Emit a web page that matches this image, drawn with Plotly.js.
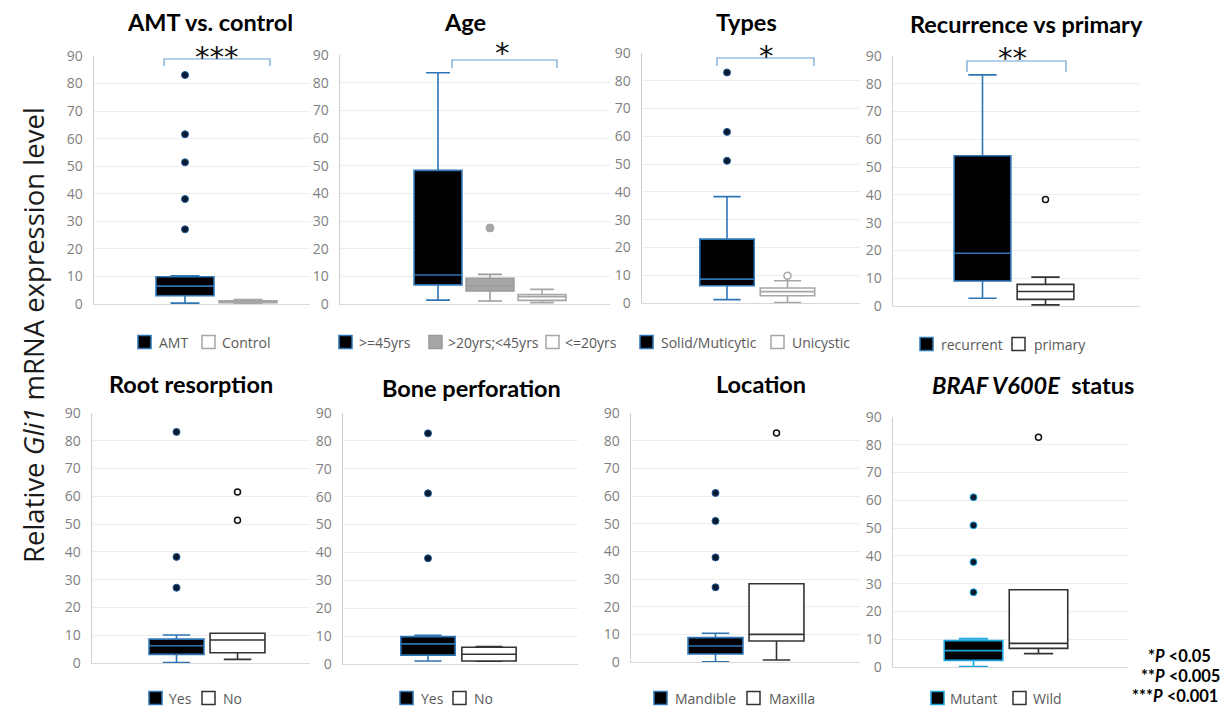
<!DOCTYPE html>
<html>
<head>
<meta charset="utf-8">
<script src="https://cdn.plot.ly/plotly-3.0.1.min.js"></script>
<style>html,body{margin:0;padding:0;background:#fff;}#chart{width:1224px;height:710px;}</style>
</head>
<body>
<div id="chart"></div>
<script>
// ---------------- DATA ----------------
// Panel 1: AMT vs. control
const p1Cats = ['AMT', 'Control'];
const p1Q1 = [3.0, 0.5];
const p1Med = [6.5, 0.9];
const p1Q3 = [9.9, 1.2];
const p1Lo = [0.3, 0.3];
const p1Hi = [10.2, 1.6];
const p1Out = [[83.1, 61.6, 51.4, 38.1, 27.1], []];

// Panel 2: Age
const p2Cats = ['>=45yrs', '>20yrs;<45yrs', '<=20yrs'];
const p2Q1 = [6.9, 4.7, 1.3];
const p2Med = [10.5, 6.6, 2.6];
const p2Q3 = [48.3, 9.3, 3.4];
const p2Lo = [1.4, 1.1, 0.5];
const p2Hi = [83.6, 10.7, 5.3];
const p2Out = [[], [27.5], []];

// Panel 3: Types
const p3Cats = ['Solid/Muticytic', 'Unicystic'];
const p3Q1 = [6.2, 2.6];
const p3Med = [8.6, 4.1];
const p3Q3 = [23.0, 5.4];
const p3Lo = [1.2, 0.2];
const p3Hi = [38.3, 8.0];
const p3Out = [[83.0, 61.6, 51.2], [9.8]];

// Panel 4: Recurrence vs primary
const p4Cats = ['recurrent', 'primary'];
const p4Q1 = [9.0, 2.4];
const p4Med = [19.0, 5.2];
const p4Q3 = [54.1, 7.8];
const p4Lo = [2.8, 0.4];
const p4Hi = [83.2, 10.4];
const p4Out = [[], [38.3]];

// Panel 5: Root resorption
const p5Cats = ['Yes', 'No'];
const p5Q1 = [3.1, 3.7];
const p5Med = [6.2, 8.3];
const p5Q3 = [8.6, 10.7];
const p5Lo = [0.2, 1.3];
const p5Hi = [10.1, 10.7];
const p5Out = [[83.2, 38.2, 27.1], [61.6, 51.4]];

// Panel 6: Bone perforation
const p6Cats = ['Yes', 'No'];
const p6Q1 = [3.2, 1.1];
const p6Med = [7.2, 3.5];
const p6Q3 = [9.8, 6.0];
const p6Lo = [1.1, 1.0];
const p6Hi = [10.3, 6.3];
const p6Out = [[82.7, 61.2, 37.9], []];

// Panel 7: Location
const p7Cats = ['Mandible', 'Maxilla'];
const p7Q1 = [2.9, 7.6];
const p7Med = [5.8, 10.0];
const p7Q3 = [8.8, 28.3];
const p7Lo = [0.1, 0.7];
const p7Hi = [10.4, 28.3];
const p7Out = [[61.1, 51.0, 37.8, 27.0], [82.8]];

// Panel 8: BRAF V600E status
const p8Cats = ['Mutant', 'Wild'];
const p8Q1 = [2.4, 6.7];
const p8Med = [5.9, 8.5];
const p8Q3 = [9.5, 27.8];
const p8Lo = [0.2, 4.8];
const p8Hi = [10.2, 27.8];
const p8Out = [[61.1, 51.0, 37.8, 26.9], [82.7]];

const yTickVals = [0, 10, 20, 30, 40, 50, 60, 70, 80, 90];
const yTickText = ['0', '10', '20', '30', '40', '50', '60', '70', '80', '90'];

// ---------------- STYLES ----------------
const W = 1224, H = 710;
const px = v => v / W;
const py = v => 1 - v / H;
const esc = s => s.replace(/&/g, '&amp;').replace(/</g, '&lt;').replace(/>/g, '&gt;');

const BLUE = '#2E75B6';
const CYAN = '#1AA7E0';
const GRAY = '#A6A6A6';
const DARK = '#333333';
const styleBlack = {fill: '#000000', line: BLUE, out: {color: '#0A1A33', size: 7, line: {color: '#1F5A96', width: 1}}};
const styleCyan = {fill: '#000000', line: CYAN, out: {color: '#0A1A33', size: 7, line: {color: CYAN, width: 1}}};
const styleGrayFill = {fill: GRAY, line: '#9A9A9A', out: {color: GRAY, size: 8, line: {color: GRAY, width: 1}}};
const styleGrayOpen = {fill: '#FFFFFF', line: GRAY, out: {color: '#FFFFFF', size: 7, line: {color: GRAY, width: 1.5}}};
const styleOpen = {fill: '#FFFFFF', line: DARK, out: {color: '#FFFFFF', size: 6, line: {color: '#111111', width: 1.5}}};

// panel geometry (pixels)
const panels = [
  {cats: p1Cats, q1: p1Q1, med: p1Med, q3: p1Q3, lo: p1Lo, hi: p1Hi, out: p1Out,
   styles: [styleBlack, styleGrayOpen], left: 94, right: 310, top: 56, bottom: 304, c0: 185, unit: 63, bw: 0.92,
   legSq: [138, 202], legTx: [157, 220], legY: 342},
  {cats: p2Cats, q1: p2Q1, med: p2Med, q3: p2Q3, lo: p2Lo, hi: p2Hi, out: p2Out,
   styles: [styleBlack, styleGrayFill, styleGrayOpen], left: 340, right: 610, top: 55, bottom: 304, c0: 438, unit: 52, bw: 0.92,
   legSq: [339, 429, 546], legTx: [357, 446, 563], legY: 342},
  {cats: p3Cats, q1: p3Q1, med: p3Med, q3: p3Q3, lo: p3Lo, hi: p3Hi, out: p3Out,
   styles: [styleBlack, styleGrayOpen], left: 642, right: 860, top: 53, bottom: 303, c0: 727, unit: 60.5, bw: 0.9,
   legSq: [640, 771], legTx: [659, 790], legY: 342},
  {cats: p4Cats, q1: p4Q1, med: p4Med, q3: p4Q3, lo: p4Lo, hi: p4Hi, out: p4Out,
   styles: [styleBlack, styleOpen], left: 893, right: 1140, top: 56, bottom: 306, c0: 982.5, unit: 63, bw: 0.9,
   legSq: [920, 1012], legTx: [939, 1032], legY: 344},
  {cats: p5Cats, q1: p5Q1, med: p5Med, q3: p5Q3, lo: p5Lo, hi: p5Hi, out: p5Out,
   styles: [styleBlack, styleOpen], left: 92, right: 310, top: 413, bottom: 663, c0: 176.5, unit: 61, bw: 0.9,
   legSq: [149, 202], legTx: [167, 221], legY: 698},
  {cats: p6Cats, q1: p6Q1, med: p6Med, q3: p6Q3, lo: p6Lo, hi: p6Hi, out: p6Out,
   styles: [styleBlack, styleOpen], left: 343, right: 578, top: 413, bottom: 664, c0: 428, unit: 61, bw: 0.89,
   legSq: [400, 453], legTx: [419, 472], legY: 698},
  {cats: p7Cats, q1: p7Q1, med: p7Med, q3: p7Q3, lo: p7Lo, hi: p7Hi, out: p7Out,
   styles: [styleBlack, styleOpen], left: 631, right: 860, top: 413, bottom: 662, c0: 715.5, unit: 61, bw: 0.9,
   legSq: [654, 747], legTx: [673, 767], legY: 698},
  {cats: p8Cats, q1: p8Q1, med: p8Med, q3: p8Q3, lo: p8Lo, hi: p8Hi, out: p8Out,
   styles: [styleCyan, styleOpen], left: 893, right: 1128, top: 417, bottom: 667, c0: 973.5, unit: 65, bw: 0.9,
   legSq: [931, 1013], legTx: [948, 1031], legY: 698}
];

const FONT = 'Open Sans, Noto Sans, sans-serif';
const TFONT = 'Lato, Open Sans, sans-serif';

const traces = [];
const layout = {
  width: W, height: H,
  margin: {l: 0, r: 0, t: 0, b: 0},
  paper_bgcolor: '#FFFFFF', plot_bgcolor: 'rgba(0,0,0,0)',
  boxmode: 'overlay', showlegend: false,
  font: {family: FONT, color: '#595959'},
  annotations: [], shapes: []
};

panels.forEach((p, i) => {
  const n = i + 1;
  const sx = n === 1 ? '' : String(n);
  const xa = 'x' + sx, ya = 'y' + sx;
  p.cats.forEach((cat, k) => {
    const st = p.styles[k];
    traces.push({
      type: 'box', name: cat, x: [k], xaxis: xa, yaxis: ya, showlegend: false,
      q1: [p.q1[k]], median: [p.med[k]], q3: [p.q3[k]],
      lowerfence: [p.lo[k]], upperfence: [p.hi[k]],
      width: p.bw, whiskerwidth: 0.5, boxpoints: false,
      fillcolor: st.fill, line: {color: st.line, width: 1.6},
      hoverinfo: 'skip'
    });
    if (p.out[k].length) {
      traces.push({
        type: 'scatter', mode: 'markers', x: p.out[k].map(() => k), y: p.out[k],
        xaxis: xa, yaxis: ya, showlegend: false,
        marker: {color: st.out.color, size: st.out.size, line: st.out.line},
        hoverinfo: 'skip'
      });
    }
    // legend entry: swatch + label
    const s0 = p.legSq[k];
    layout.shapes.push({
      type: 'rect', xref: 'paper', yref: 'paper',
      x0: px(s0), x1: px(s0 + 13), y0: py(p.legY + 6.5), y1: py(p.legY - 6.5),
      fillcolor: st.fill, line: {color: st.line, width: 1.5}
    });
    layout.annotations.push({
      text: esc(cat), xref: 'paper', yref: 'paper', x: px(p.legTx[k]), y: py(p.legY),
      xanchor: 'left', yanchor: 'middle', showarrow: false,
      font: {family: FONT, size: 14, color: '#595959'}
    });
  });
  layout['xaxis' + sx] = {
    domain: [px(p.left), px(p.right)], anchor: ya,
    range: [(p.left - p.c0) / p.unit, (p.right - p.c0) / p.unit],
    showgrid: false, zeroline: false, showticklabels: false, ticks: '',
    showline: true, linecolor: '#D9D9D9', linewidth: 1, fixedrange: true
  };
  layout['yaxis' + sx] = {
    domain: [py(p.bottom), py(p.top)], anchor: xa,
    range: [0, 90], tickvals: yTickVals, ticktext: yTickText,
    showgrid: true, gridcolor: '#EDEDED', gridwidth: 1, zeroline: false,
    showline: true, linecolor: '#D0D0D0', linewidth: 1.5, ticks: '',
    ticklabelstandoff: 7,
    tickfont: {family: FONT, size: 14, color: '#7F7F7F'}, fixedrange: true
  };
});

// Panel titles
const titles = [
  {t: '<b>AMT vs. control</b>', x: 210, y: 22},
  {t: '<b>Age</b>', x: 465, y: 22},
  {t: '<b>Types</b>', x: 746, y: 22},
  {t: '<b>Recurrence vs primary</b>', x: 1026, y: 24},
  {t: '<b>Root resorption</b>', x: 191, y: 384},
  {t: '<b>Bone perforation</b>', x: 471, y: 388},
  {t: '<b>Location</b>', x: 761, y: 384},
  {t: '<b><i>BRAF V600E</i>&nbsp; status</b>', x: 1033, y: 385}
];
titles.forEach(o => layout.annotations.push({
  text: o.t, xref: 'paper', yref: 'paper', x: px(o.x), y: py(o.y),
  xanchor: 'center', yanchor: 'middle', showarrow: false,
  font: {family: TFONT, size: 23.5, color: '#000000'}
}));

// Significance brackets
const brackets = [
  {x1: 164, x2: 270, top: 59, leg: 66, s: '***', sx: 217, sy: 57},
  {x1: 452, x2: 557, top: 60, leg: 68, s: '*', sx: 502, sy: 53},
  {x1: 717, x2: 814, top: 58, leg: 66, s: '*', sx: 766, sy: 56},
  {x1: 967, x2: 1066, top: 61, leg: 72, s: '**', sx: 1013, sy: 58}
];
brackets.forEach(b => {
  layout.shapes.push({
    type: 'path', xref: 'paper', yref: 'paper',
    path: `M${px(b.x1)},${py(b.leg)} L${px(b.x1)},${py(b.top)} L${px(b.x2)},${py(b.top)} L${px(b.x2)},${py(b.leg)}`,
    line: {color: '#6A9FD4', width: 1.2}
  });
  layout.annotations.push({
    text: b.s, xref: 'paper', yref: 'paper', x: px(b.sx), y: py(b.sy),
    xanchor: 'center', yanchor: 'middle', showarrow: false,
    font: {family: 'DejaVu Sans, sans-serif', size: 29, color: '#111111'}
  });
});

// Shared y-axis title
layout.annotations.push({
  text: 'Relative <i>Gli1</i> mRNA expression level', xref: 'paper', yref: 'paper',
  x: px(33), y: py(335), xanchor: 'center', yanchor: 'middle', textangle: -90, showarrow: false,
  font: {family: FONT, size: 27.5, color: '#1A1A1A'}
});

// P-value key
const pKeys = [
  {t: '<b>*<i>P</i> &lt;0.05</b>', x: 1213, y: 656},
  {t: '<b>**<i>P</i> &lt;0.005</b>', x: 1222, y: 676},
  {t: '<b>***<i>P</i> &lt;0.001</b>', x: 1220, y: 696}
];
pKeys.forEach(o => layout.annotations.push({
  text: o.t, xref: 'paper', yref: 'paper', x: px(o.x), y: py(o.y),
  xanchor: 'right', yanchor: 'middle', showarrow: false,
  font: {family: TFONT, size: 16.5, color: '#000000'}
}));

Plotly.newPlot('chart', traces, layout, {staticPlot: true, displayModeBar: false});
</script>
</body>
</html>
